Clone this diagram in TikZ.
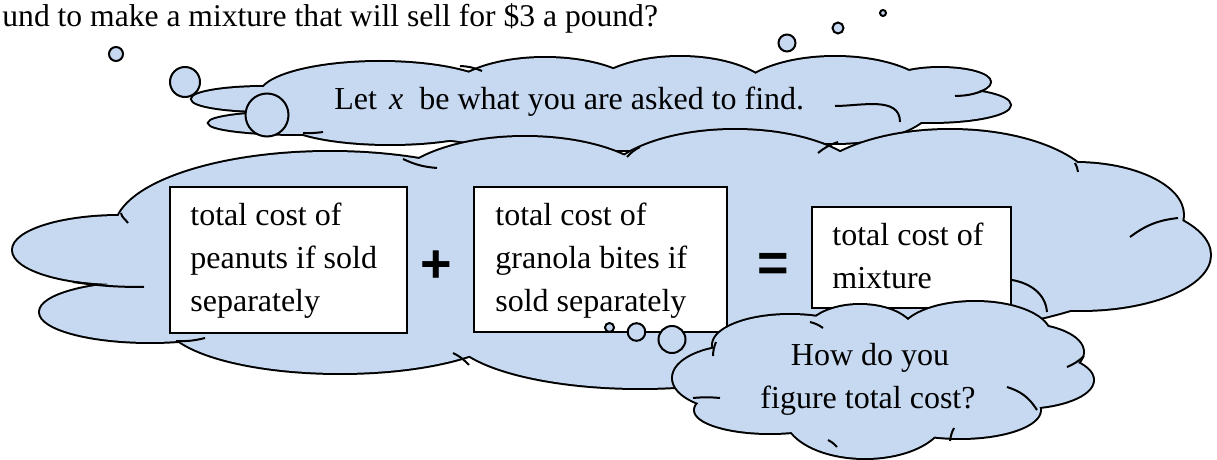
\documentclass[tikz,border=0pt]{standalone}
\usepackage{fontspec}
\setmainfont{Liberation Serif}
\newfontfamily\opfont{Liberation Sans}
\definecolor{cloudblue}{HTML}{C6D9F1}
\tikzset{
  cloudedge/.style={draw=black, line width=2pt},
  cloudbody/.style={fill=cloudblue},
  hookline/.style={draw=black, line width=1pt},
  bubble/.style={draw=black, fill=cloudblue, line width=1pt},
  txtbox/.style={draw=black, fill=white, line width=0.9pt, rectangle, inner sep=0pt, outer sep=0pt, anchor=north west},
  txt/.style={font=\fontsize{16}{21.5}\selectfont, inner sep=0pt, anchor=base west},
  op/.style={font=\opfont\bfseries\fontsize{27}{27}\selectfont, inner sep=0pt}
}
\newcommand\drawcloud[1]{%
  \foreach \cx/\cy/\rx/\ry in {#1}{\path[cloudedge] (\cx,\cy) ellipse[x radius=\rx, y radius=\ry];}%
  \foreach \cx/\cy/\rx/\ry in {#1}{\path[cloudbody] (\cx,\cy) ellipse[x radius=\rx, y radius=\ry];}%
}
\begin{document}
\begin{tikzpicture}[x=0.5pt, y=-0.5pt]
\useasboundingbox (0,0) rectangle (1217,460);

% question text
\node[txt, font=\fontsize{15.8}{19}\selectfont] (question) at (2,27) {und to make a mixture that will sell for \$3 a pound?};

% top cloud
\drawcloud{265/99/73/12, 300/123/91/11, 380/95/120/33, 545/100/100/42, 680/100/95/43, 835/100/100/43,
  940/82/50/14, 930/105/80/17, 835/122/65/16, 390/118/110/26, 620/115/240/35}
\draw[hookline] (460,66) to[bend left=10] (482,71);
\draw[hookline] (955,96) to[bend right=10] (985,90);
\draw[hookline] (303,133) to[bend right=5] (323,132);
\draw[hookline] (835,106) to[out=0, in=90] (900,122);

% big cloud
\drawcloud{330/230/215/78, 120/250/107/34, 150/312/110/30, 340/320/175/53, 640/330/190/58,
  960/300/88/30, 1080/255/130/55, 1075/215/108/52, 950/200/150/70, 735/190/135/60, 525/195/135/58,
  620/265/520/90}
\draw[hookline] (121,213) to[out=-80, in=125] (128,223);
\draw[hookline] (73,282) to[bend right=4] (144,287);
\draw[hookline] (176,341) to[bend right=8] (205,338);
\draw[hookline] (453,353) to[bend left=10] (469,365);
\draw[hookline] (403,159) to[bend right=10] (437,168);
\draw[hookline] (627,157) to[bend left=10] (640,147);
\draw[hookline] (818,153) to[bend left=10] (838,142);
\draw[hookline] (1075,163) to[bend left=10] (1078,172);
\draw[hookline] (1130,237) to[bend left=15] (1178,218);
\draw[hookline] (1012,280) to[out=-10, in=95] (1047,312);

% thought text in top cloud
\node[txt] (letx) at (334,110) {Let\hspace{0.38em}\textit{x}\hspace{0.5em}be what you are asked to find.};

% boxes
\node[txtbox, minimum width=118.5pt, minimum height=73pt] (box1) at (170,187) {};
\node[txtbox, minimum width=126.5pt, minimum height=72.5pt] (box2) at (474,187) {};
\node[txtbox, minimum width=99.5pt, minimum height=50.5pt] (box3) at (812,207) {};
\node[txt] (b1l1) at (190,226) {total cost of};
\node[txt] (b1l2) at (190,269) {peanuts if sold};
\node[txt] (b1l3) at (190,312) {separately};
\node[txt] (b2l1) at (495,226) {total cost of};
\node[txt] (b2l2) at (495,269) {granola bites if};
\node[txt] (b2l3) at (495,312) {sold separately};
\node[txt] (b3l1) at (832,246) {total cost of};
\node[txt] (b3l2) at (832,288) {mixture};
\node[op] (plus) at (436,267) {+};
\node[op] (equals) at (773,267) {=};

% small cloud
\drawcloud{740/378/67/32, 790/345/77/30, 860/335/55/30, 975/335/75/33, 1020/352/63/28, 1020/380/73/28,
  960/410/80/28, 865/415/80/43, 770/410/75/23, 880/380/170/45}
\draw[hookline] (713,356) to[bend left=10] (716,342);
\draw[hookline] (720,398) to[bend right=5] (693,398);
\draw[hookline] (950,441) to[bend left=10] (954,428);
\draw[hookline] (1007,387) to[bend left=20] (1037,410);
\draw[hookline] (1067,367) to[bend right=10] (1084,356);
\draw[hookline] (810,322) to[bend left=10] (823,328);
\draw[hookline] (828,440) to[bend left=10] (837,447);
\node[txt, anchor=base] (how1) at (870,365) {How do you};
\node[txt, anchor=base] (how2) at (868,408) {figure total cost?};

% bubbles
\path[bubble] (116,54) circle[radius=7];
\path[bubble] (185,82) circle[radius=15];
\path[bubble] (267,115) circle[radius=21.5];
\path[bubble] (787,43) circle[radius=8.5];
\path[bubble] (838,28) circle[radius=5.5];
\path[bubble] (883,13) circle[radius=3];
\path[bubble] (609.5,327.5) circle[radius=4.5];
\path[bubble] (636.5,332) circle[radius=8.8];
\path[bubble] (672,339.5) circle[radius=13.5];
\end{tikzpicture}
\end{document}
